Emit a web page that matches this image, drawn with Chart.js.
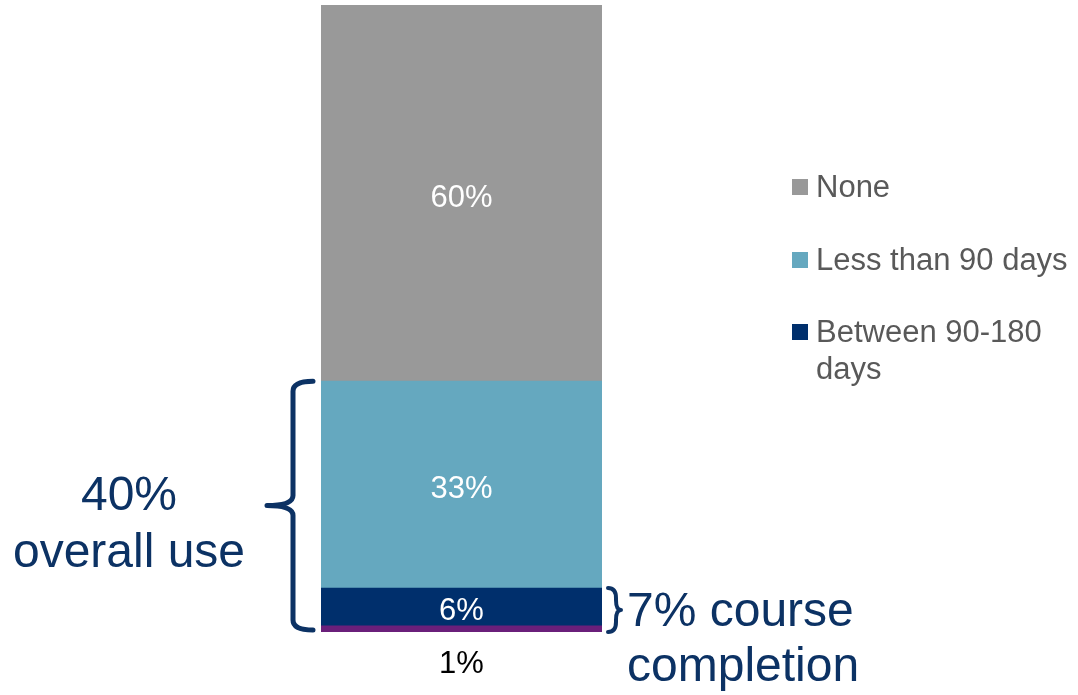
<!DOCTYPE html>
<html>
<head>
<meta charset="utf-8">
<script src="https://cdn.jsdelivr.net/npm/chart.js@4"></script>
<style>
  html, body { margin: 0; padding: 0; background: #fff; }
  #wrap { width: 1078px; height: 695px; position: relative; }
</style>
</head>
<body>
<div id="wrap"><canvas id="usoChart"></canvas></div>
<script>
// dados (de baixo para cima na pilha)
const categorias = ['Uso'];
const rotulos = ['', 'Between 90-180 days', 'Less than 90 days', 'None'];
const valores = [1, 6, 33, 60];
const cores = ['#6A1F7A', '#002F6C', '#65A8BF', '#999999'];
const corTextoLegenda = '#595959';
const corAnotacao = '#0C3264';
const fonte = '"Liberation Sans", Arial, sans-serif';

// legenda em ordem de leitura (sem a faixa de 1%)
const legendaItens = [3, 2, 1];
const legendaLinhas = [['None'], ['Less than 90 days'], ['Between 90-180', 'days']];

// chaves e textos laterais
const chaveUso = { de: 0, ate: 40, texto: ['40%', 'overall use'] };
const chaveCurso = { de: 0, ate: 7, texto: ['7% course', 'completion'] };

function desenhaChave(ctx, x, yTop, yBot, largura, ponta, lado) {
    // lado = -1 aponta para a esquerda, +1 para a direita
    const yMid = (yTop + yBot) / 2;
    const xv = x;
    const xa = x - lado * largura;
    const xp = x + lado * ponta;
    const r = Math.min(10, (yBot - yTop) / 4);
    ctx.beginPath();
    ctx.moveTo(xa, yTop);
    ctx.quadraticCurveTo(xv, yTop, xv, yTop + r);
    ctx.lineTo(xv, yMid - r);
    ctx.quadraticCurveTo(xv, yMid, xp, yMid);
    ctx.quadraticCurveTo(xv, yMid, xv, yMid + r);
    ctx.lineTo(xv, yBot - r);
    ctx.quadraticCurveTo(xv, yBot, xa, yBot);
    ctx.stroke();
}

const anotacoes = {
    id: 'anotacoes',
    afterDatasetsDraw(chart) {
        const ctx = chart.ctx;
        const y = chart.scales.y;
        const area = chart.chartArea;
        ctx.save();

        // rótulos dos segmentos
        ctx.font = '31px ' + fonte;
        ctx.textAlign = 'center';
        ctx.textBaseline = 'middle';
        chart.data.datasets.forEach((ds, i) => {
            const bar = chart.getDatasetMeta(i).data[0];
            const txt = ds.data[0] + '%';
            if (i === 0) {
                ctx.fillStyle = '#000';
                ctx.fillText(txt, bar.x, area.bottom + 32);
            } else {
                ctx.fillStyle = '#fff';
                ctx.fillText(txt, bar.x, (bar.y + bar.base) / 2 + 5);
            }
        });

        // legenda
        ctx.textAlign = 'left';
        const legX = 792, legY = [187, 260, 332];
        legendaItens.forEach((di, k) => {
            ctx.fillStyle = cores[di];
            ctx.fillRect(legX, legY[k] - 8, 16, 16);
            ctx.fillStyle = corTextoLegenda;
            legendaLinhas[k].forEach((l, j) => {
                ctx.fillText(l, legX + 24, legY[k] + 1 + j * 37);
            });
        });

        // chaves
        ctx.strokeStyle = corAnotacao;
        ctx.lineCap = 'round';
        ctx.lineJoin = 'round';
        ctx.lineWidth = 5;
        const y1 = y.getPixelForValue(chaveUso.ate), y0 = y.getPixelForValue(chaveUso.de);
        desenhaChave(ctx, area.left - 28, y1, y0 - 2, 20, 26, -1);
        ctx.lineWidth = 4;
        const c1 = y.getPixelForValue(chaveCurso.ate), c0 = y.getPixelForValue(chaveCurso.de);
        desenhaChave(ctx, area.right + 14, c1, c0, 8, 5, 1);

        // textos das chaves
        ctx.fillStyle = corAnotacao;
        ctx.font = '48px ' + fonte;
        ctx.textAlign = 'center';
        const ym = (y0 + y1) / 2;
        ctx.fillText(chaveUso.texto[0], 129, ym - 10);
        ctx.fillText(chaveUso.texto[1], 129, ym + 47);
        ctx.textAlign = 'left';
        const yc = (c0 + c1) / 2;
        ctx.fillText(chaveCurso.texto[0], area.right + 25, yc + 3);
        ctx.fillText(chaveCurso.texto[1], area.right + 25, yc + 58);
        ctx.restore();
    }
};

new Chart(document.getElementById('usoChart'), {
    type: 'bar',
    data: {
        labels: categorias,
        datasets: valores.map((v, i) => ({
            label: rotulos[i],
            data: [v],
            backgroundColor: cores[i],
            borderWidth: 0,
            barPercentage: 1,
            categoryPercentage: 1
        }))
    },
    options: {
        responsive: true,
        maintainAspectRatio: false,
        animation: false,
        layout: { padding: { left: 321, right: 476, top: 5, bottom: 63 } },
        plugins: {
            legend: { display: false },
            tooltip: { enabled: false }
        },
        scales: {
            x: { stacked: true, display: false },
            y: { stacked: true, display: false, min: 0, max: 100 }
        }
    },
    plugins: [anotacoes]
});
</script>
</body>
</html>
